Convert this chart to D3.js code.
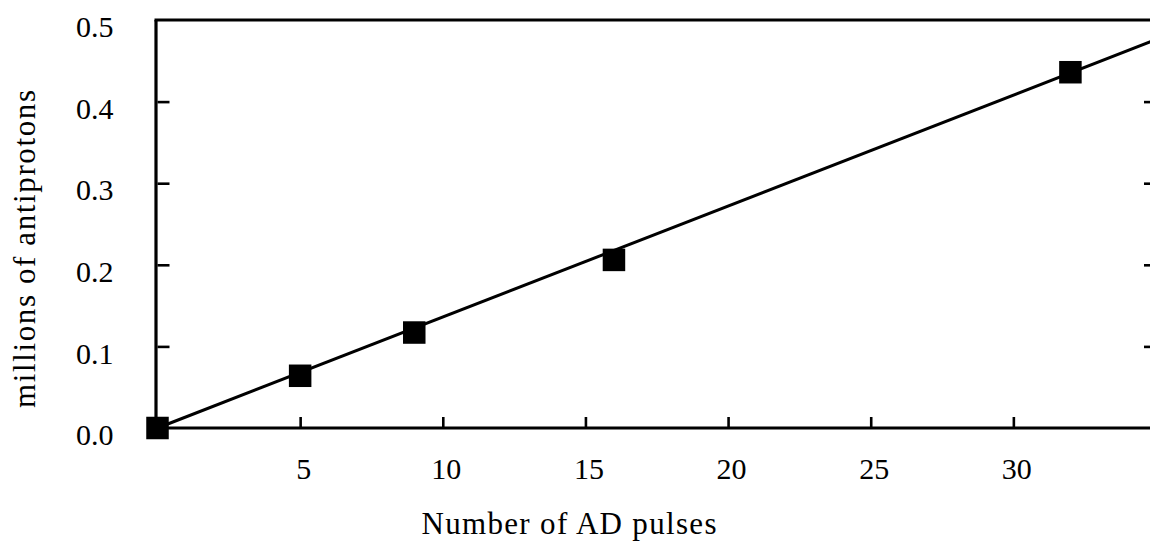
<!DOCTYPE html>
<html>
<head>
<meta charset="utf-8">
<script src="https://cdn.jsdelivr.net/npm/d3@7"></script>
<style>
  html, body { margin: 0; padding: 0; background: #fff; }
  svg { display: block; }
</style>
</head>
<body>
<svg id="chart" width="1150" height="546"></svg>
<script>
// Measured antiprotons vs. number of AD pulses
const pulses = [0, 5, 9, 16, 32];
const antiprotons = [0.0, 0.064, 0.117, 0.206, 0.436];   // millions

// Linear fit drawn across the plot (endpoints in data units)
const fitPulses = [0, 35];
const fitAntiprotons = [0.0, 0.476];

const xTicks = [5, 10, 15, 20, 25, 30];
const yTicks = [0.0, 0.1, 0.2, 0.3, 0.4, 0.5];
const yInnerTicks = [0.1, 0.2, 0.3, 0.4];

const xTitle = "Number of AD pulses";
const yTitle = "millions of antiprotons";

const FONT = "'Liberation Serif', 'DejaVu Serif', serif";

(function draw() {
  const svg = d3.select("#chart");
  const mLeft = 157.5, mRight = 1156, mTop = 20, mBottom = 428;

  const x = d3.scaleLinear().domain([0, 35]).range([mLeft, mRight]);
  const y = d3.scaleLinear().domain([0, 0.5]).range([mBottom, mTop]);

  // Frame
  const frame = svg.append("g")
    .attr("fill", "none").attr("stroke", "#000").attr("stroke-width", 3.2);
  frame.append("line").attr("x1", mLeft - 1.5).attr("x2", mLeft - 1.5).attr("y1", mTop).attr("y2", mBottom);
  frame.append("line").attr("x1", mLeft - 3).attr("x2", mRight).attr("y1", mTop).attr("y2", mTop);
  frame.append("line").attr("x1", mLeft - 3).attr("x2", mRight + 2).attr("y1", mBottom).attr("y2", mBottom);
  frame.append("line").attr("x1", mRight).attr("x2", mRight).attr("y1", mTop).attr("y2", mBottom);

  // Bottom axis: inward ticks, labels below
  const xAxis = d3.axisBottom(x).tickValues(xTicks).tickFormat(d3.format("d"))
    .tickSizeInner(-11).tickSizeOuter(0).tickPadding(29.5);
  const gx = svg.append("g").attr("transform", `translate(0,${mBottom})`).call(xAxis)
    .attr("font-family", FONT).attr("font-size", 30);
  gx.select(".domain").remove();
  gx.selectAll(".tick line").attr("stroke", "#000").attr("stroke-width", 2.6);
  gx.selectAll(".tick text").attr("dx", 3).attr("fill", "#000");

  // Left axis labels
  const yAxisLabels = d3.axisLeft(y).tickValues(yTicks).tickFormat(d3.format(".1f"))
    .tickSize(0).tickPadding(44);
  const gyl = svg.append("g").attr("transform", `translate(${mLeft},0)`).call(yAxisLabels)
    .attr("font-family", FONT).attr("font-size", 30);
  gyl.select(".domain").remove();
  gyl.selectAll(".tick text").attr("y", 7).attr("fill", "#000");

  // Left inward ticks
  const gyt = svg.append("g").attr("transform", `translate(${mLeft},0)`)
    .call(d3.axisLeft(y).tickValues(yInnerTicks).tickFormat("").tickSizeInner(-12).tickSizeOuter(0));
  gyt.select(".domain").remove();
  gyt.selectAll(".tick line").attr("stroke", "#000").attr("stroke-width", 2.6);

  // Right inward ticks
  const gyr = svg.append("g").attr("transform", `translate(${mRight},0)`)
    .call(d3.axisRight(y).tickValues(yInnerTicks).tickFormat("").tickSizeInner(-12).tickSizeOuter(0));
  gyr.select(".domain").remove();
  gyr.selectAll(".tick line").attr("stroke", "#000").attr("stroke-width", 2.6);

  // Fit line
  const fit = fitPulses.map((p, i) => [p, fitAntiprotons[i]]);
  svg.append("path")
    .datum(fit)
    .attr("fill", "none").attr("stroke", "#000").attr("stroke-width", 3)
    .attr("d", d3.line().x(d => x(d[0])).y(d => y(d[1])));

  // Square markers
  const s = 22.5;
  svg.append("g").selectAll("rect")
    .data(pulses.map((p, i) => ({ p, v: antiprotons[i] })))
    .join("rect")
    .attr("x", d => x(d.p) - s / 2)
    .attr("y", d => y(d.v) - s / 2)
    .attr("width", s).attr("height", s)
    .attr("fill", "#000");

  // Axis titles
  svg.append("text")
    .attr("x", 569).attr("y", 534)
    .attr("text-anchor", "middle")
    .attr("font-family", FONT)
    .attr("font-size", 31)
    .attr("fill", "#000")
    .attr("textLength", 295).attr("lengthAdjust", "spacing")
    .text(xTitle);

  svg.append("text")
    .attr("transform", "translate(35,249) rotate(-90)")
    .attr("text-anchor", "middle")
    .attr("font-family", FONT)
    .attr("font-size", 31)
    .attr("fill", "#000")
    .attr("textLength", 318).attr("lengthAdjust", "spacing")
    .text(yTitle);
})();
</script>
</body>
</html>
